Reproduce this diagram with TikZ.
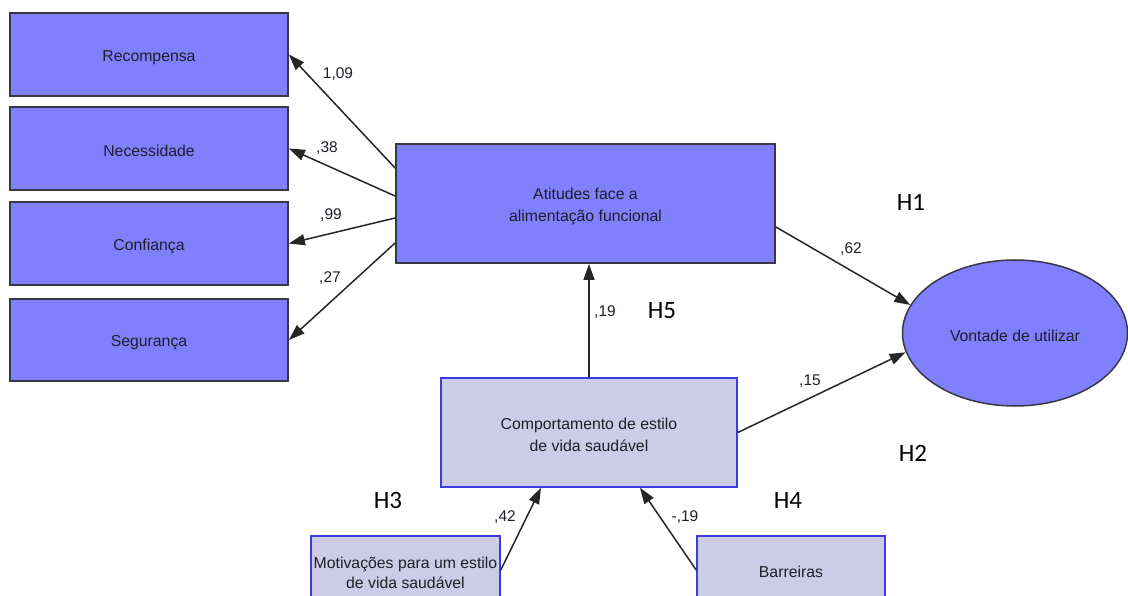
\documentclass[tikz,border=0pt]{standalone}
\usepackage{fontspec}
\setmainfont{Liberation Sans}
\newfontfamily\hfont{Carlito}
\usetikzlibrary{arrows.meta,shapes.geometric}
\definecolor{darkfill}{RGB}{128,128,255}
\definecolor{lightfill}{RGB}{204,204,232}
\definecolor{lightborder}{RGB}{60,60,230}
\definecolor{darkborder}{RGB}{55,55,70}
\definecolor{txt}{RGB}{30,30,40}
\newcommand\lowstrut{\rule{0pt}{16.5pt}}
\tikzset{
  darkbox/.style={draw=darkborder, fill=darkfill, line width=1.8pt, minimum width=278pt, minimum height=83pt, inner sep=0pt, text=txt, align=center, font=\fontsize{15.8}{22}\selectfont},
  lightbox/.style={draw=lightborder, fill=lightfill, line width=1.6pt, inner sep=0pt, text=txt, align=center, font=\fontsize{15.8}{22}\selectfont},
  coef/.style={text=txt, inner sep=0pt, font=\fontsize{15.5}{18}\selectfont},
  hyp/.style={text=black, inner sep=0pt, font=\hfont\fontsize{25}{28}\selectfont},
  path/.style={draw=black!85, line width=1.5pt, -{Triangle[length=16pt,width=11pt]}}
}
\begin{document}
\begin{tikzpicture}[x=1pt,y=-1pt]
\useasboundingbox (0,0) rectangle (1128,596);
% left indicator boxes
\node[darkbox] (rec) at (149,54.5) {\lowstrut Recompensa};
\node[darkbox] (nec) at (149,148.5) {\lowstrut Necessidade};
\node[darkbox] (conf) at (149,243.5) {\lowstrut Confiança};
\node[darkbox, minimum height=82pt] (seg) at (149,340) {\lowstrut Segurança};
% central construct
\node[darkbox, minimum width=379pt, minimum height=119pt] (att) at (585.5,203.5) {\lowstrut Atitudes face a\\alimentação funcional};
% outcome
\node[ellipse, draw=darkborder, fill=darkfill, line width=1.5pt, minimum width=225pt, minimum height=146pt, inner sep=0pt, text=txt, font=\fontsize{15.8}{18}\selectfont] (vont) at (1015,333) {\lowstrut Vontade de utilizar};
% lifestyle
\node[lightbox, minimum width=296pt, minimum height=109pt] (comp) at (589,432.5) {\lowstrut Comportamento de estilo\\de vida saudável};
\node[lightbox, minimum width=189pt, minimum height=74pt, font=\fontsize{15.8}{20}\selectfont] (motiv) at (405.5,573) {Motivações para um estilo\\de vida saudável};
\node[lightbox, minimum width=188pt, minimum height=66pt] (barr) at (791,569) {\lowstrut Barreiras};
% paths
\draw[path] ([yshift=35.5pt]att.west) -- (rec.east);
\draw[path] ([yshift=7.5pt]att.west) -- (nec.east);
\draw[path] ([yshift=-14.5pt]att.west) -- (conf.east);
\draw[path] ([yshift=-39.5pt]att.west) -- (seg.east);
\draw[path] ([yshift=-23.5pt]att.east) -- (vont.165);
\draw[path] (comp.east) -- (vont.190);
\draw[path] (comp.north) -- (comp.north |- att.south);
\draw[path] ([yshift=3pt]motiv.east) -- ([xshift=-48pt]comp.south);
\draw[path] ([yshift=-1pt]barr.west) -- ([xshift=51pt]comp.south);
% coefficients
\node[coef] (c109) at (338,74) {1,09};
\node[coef] (c38) at (327,148) {,38};
\node[coef] (c99) at (331,215) {,99};
\node[coef] (c27) at (330,278) {,27};
\node[coef] (c62) at (851,249) {,62};
\node[coef] (c15) at (810,381) {,15};
\node[coef] (c19) at (605,312) {,19};
\node[coef] (c42) at (505,517) {,42};
\node[coef] (cm19) at (685,517) {-,19};
% hypotheses
\node[hyp] (h1) at (911,202) {H1};
\node[hyp] (h2) at (913,453) {H2};
\node[hyp] (h3) at (388,500) {H3};
\node[hyp] (h4) at (788,500) {H4};
\node[hyp] (h5) at (662,311) {H5};
\end{tikzpicture}
\end{document}
